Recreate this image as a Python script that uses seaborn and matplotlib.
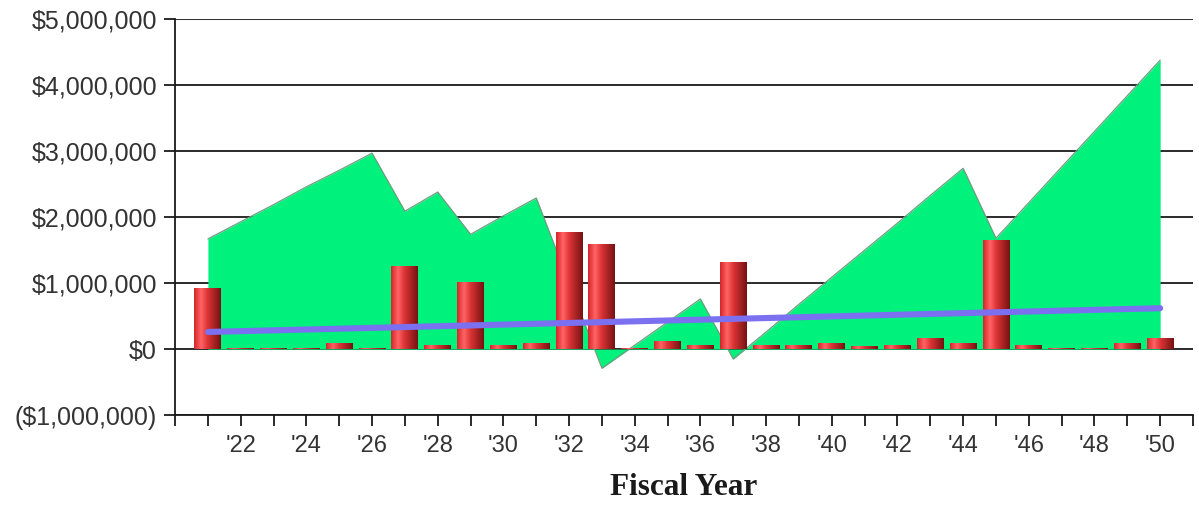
import numpy as np
import pandas as pd
import matplotlib
matplotlib.use("Agg")
import matplotlib.pyplot as plt
import seaborn as sns
from matplotlib.colors import LinearSegmentedColormap
from matplotlib.ticker import FuncFormatter, FixedLocator

# Fiscal years 2021-2050
years = list(range(2021, 2051))

# Annual amounts (red bars)
annual = [
    920000, 20000, 20000, 20000, 90000, 20000, 1260000, 60000, 1020000, 60000,
    100000, 1780000, 1600000, 20000, 130000, 60000, 1320000, 60000, 60000, 100000,
    45000, 60000, 170000, 100000, 1660000, 60000, 20000, 20000, 100000, 170000,
]

# Running balance (green area)
balance = [
    1670000, 1930000, 2190000, 2460000, 2710000, 2970000, 2090000, 2380000, 1740000, 2020000,
    2290000, 1000000, -290000, 60000, 410000, 760000, -150000, 260000, 680000, 1090000,
    1500000, 1910000, 2330000, 2740000, 1680000, 2220000, 2760000, 3300000, 3840000, 4380000,
]

# Trend line end points (blue)
trend_years = [2021, 2050]
trend_values = [260000, 620000]

tick_years = list(range(2020, 2052))
label_years = list(range(2022, 2051, 2))
y_ticks = [-1000000, 0, 1000000, 2000000, 3000000, 4000000, 5000000]

sns.set_style("white")
plt.rcParams["font.family"] = ["Liberation Sans", "DejaVu Sans"]

fig = plt.figure(figsize=(11.99, 5.05), dpi=100)
ax = fig.add_axes([0.146, 0.178, 0.849, 0.784])

df = pd.DataFrame({"year": years, "annual": annual, "balance": balance})

# Horizontal grid lines behind everything
for v in y_ticks:
    ax.axhline(v, color="#1a1a1a", lw=1.3, zorder=0)

# Balance area
ax.fill_between(df["year"], df["balance"], 0, color="#00F27C", zorder=1, lw=0)
sns.lineplot(data=df, x="year", y="balance", ax=ax, color="#6f9c80", lw=0.9, zorder=1.5)

# Annual bars with a cylinder-like shading
sns.barplot(data=df, x="year", y="annual", native_scale=True, width=0.82,
            color="#d83030", ax=ax, zorder=3)
cyl = LinearSegmentedColormap.from_list(
    "cyl", [(0.0, "#d42428"), (0.26, "#ff6464"), (0.5, "#dc3436"), (1.0, "#741212")])
grad = np.linspace(0, 1, 256)[None, :]
for p in list(ax.patches):
    x0, y0 = p.get_x(), p.get_y()
    w, h = p.get_width(), p.get_height()
    im = ax.imshow(grad, extent=[x0, x0 + w, y0, y0 + h], cmap=cyl,
                   aspect="auto", interpolation="bilinear", zorder=3)
    im.set_clip_path(p)
    p.set_facecolor("none")
    p.set_edgecolor("none")

# Trend line
sns.lineplot(x=trend_years, y=trend_values, ax=ax, color="#7a70f0", lw=4.4,
             solid_capstyle="round", zorder=4)

ax.set_xlim(2020, 2051)
ax.set_ylim(-1000000, 5000000)
ax.set_aspect("auto")

ax.xaxis.set_major_locator(FixedLocator(tick_years))
ax.set_xticklabels(["'" + str(y)[2:] if y in label_years else "" for y in tick_years])
ax.yaxis.set_major_locator(FixedLocator(y_ticks))
ax.yaxis.set_major_formatter(FuncFormatter(
    lambda v, _: "$0" if v == 0 else (f"${v:,.0f}" if v > 0 else f"(${-v:,.0f})")))

ax.tick_params(axis="both", which="major", direction="out", length=8, width=1.3,
               color="#1a1a1a", labelcolor="#333333")
ax.tick_params(axis="y", labelsize=18, pad=5)
ax.tick_params(axis="x", labelsize=17, pad=6)
ax.tick_params(left=True, bottom=True)

for side in ["top", "right"]:
    ax.spines[side].set_visible(False)
for side in ["left", "bottom"]:
    ax.spines[side].set_color("#1a1a1a")
    ax.spines[side].set_linewidth(1.3)

ax.set_ylabel("")
ax.set_xlabel("Fiscal Year", fontsize=22.5, fontweight="bold",
              family=["Liberation Serif", "DejaVu Serif"], color="#1a1a1a", labelpad=12)

fig.savefig("out.png", dpi=100)
